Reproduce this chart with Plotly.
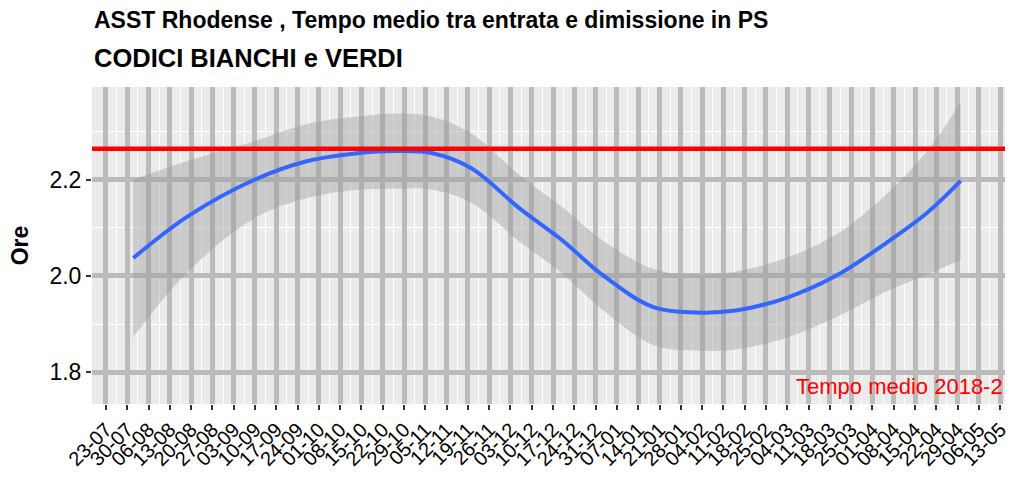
import pandas as pd
import plotly.graph_objects as go

# Smoothed weekly average time (hours) between ER entry and discharge
dates = ["2018-08-01", "2018-08-19", "2018-09-10", "2018-09-27", "2018-10-13",
         "2018-10-27", "2018-11-07", "2018-11-20", "2018-12-06", "2018-12-20",
         "2019-01-02", "2019-01-19", "2019-02-02", "2019-02-15", "2019-03-04",
         "2019-03-20", "2019-04-05", "2019-04-19", "2019-04-30"]
fit = [2.037, 2.124, 2.200, 2.238, 2.254, 2.259, 2.255, 2.224, 2.140, 2.074,
       2.003, 1.935, 1.924, 1.928, 1.955, 2.000, 2.066, 2.131, 2.197]
upper = [2.200, 2.239, 2.280, 2.315, 2.330, 2.337, 2.331, 2.296, 2.209, 2.143,
         2.075, 2.014, 2.003, 2.009, 2.038, 2.086, 2.166, 2.259, 2.361]
lower = [1.873, 2.009, 2.120, 2.161, 2.178, 2.181, 2.179, 2.152, 2.071, 2.005,
         1.931, 1.856, 1.845, 1.847, 1.872, 1.914, 1.966, 2.003, 2.033]

overall_mean = 2.264

# weekly tick labels (dd-mm)
tick_dates = pd.date_range("2018-07-23", "2019-05-13", freq="7D")
tick_labels = [d.strftime("%d-%m") for d in tick_dates]
minor_dates = tick_dates[:-1] + pd.Timedelta(days=3.5)

x = pd.to_datetime(dates)

fig = go.Figure()

# confidence band
fig.add_trace(go.Scatter(x=x, y=upper, mode="lines", line=dict(width=0, shape="spline"),
                         hoverinfo="skip", showlegend=False))
fig.add_trace(go.Scatter(x=x, y=lower, mode="lines", line=dict(width=0, shape="spline"),
                         fill="tonexty", fillcolor="rgba(153,153,153,0.4)",
                         hoverinfo="skip", showlegend=False))
# smoothed trend
fig.add_trace(go.Scatter(x=x, y=fit, mode="lines",
                         line=dict(color="#3366FF", width=4, shape="spline"),
                         showlegend=False))

# overall mean reference line
fig.add_shape(type="line", xref="paper", x0=0, x1=1, yref="y",
              y0=overall_mean, y1=overall_mean,
              line=dict(color="#FF0000", width=4.5))

fig.add_annotation(text="Tempo medio 2018-2", xref="paper", x=1, xanchor="right",
                   yref="y", y=1.771, yanchor="middle", showarrow=False,
                   font=dict(color="#FF0000", size=22, family="Liberation Sans"))

fig.add_annotation(text="<b>ASST Rhodense , Tempo medio tra entrata e dimissione in PS</b>",
                   xref="paper", x=0, xanchor="left", yref="paper", y=1.0,
                   yshift=67, yanchor="middle", showarrow=False,
                   font=dict(color="black", size=23, family="Liberation Sans"))
fig.add_annotation(text="<b>CODICI BIANCHI e VERDI</b>",
                   xref="paper", x=0, xanchor="left", yref="paper", y=1.0,
                   yshift=29, yanchor="middle", showarrow=False,
                   font=dict(color="black", size=25.5, family="Liberation Sans"))

fig.update_layout(
    width=1016, height=479,
    margin=dict(l=92, r=6, t=87, b=75),
    paper_bgcolor="white",
    plot_bgcolor="#EBEBEB",
    font=dict(family="Liberation Sans", color="black"),
    showlegend=False,
)

fig.update_xaxes(
    type="date",
    range=["2018-07-18 10:00", "2019-05-14 14:00"],
    tickmode="array", tickvals=tick_dates, ticktext=tick_labels,
    tickangle=-45, tickfont=dict(size=20, color="black"),
    ticks="outside", ticklen=5, tickwidth=2, tickcolor="#333333",
    showgrid=True, gridcolor="#BBBBBB", gridwidth=5,
    minor=dict(tickmode="array", tickvals=minor_dates, showgrid=True,
               gridcolor="white", gridwidth=1, ticks=""),
    zeroline=False, showline=False,
)
fig.update_yaxes(
    range=[1.734, 2.392],
    tickmode="array", tickvals=[1.8, 2.0, 2.2], ticktext=["1.8", "2.0", "2.2"],
    tickfont=dict(size=23, color="black"),
    ticks="outside", ticklen=5, tickwidth=2, tickcolor="#333333",
    showgrid=True, gridcolor="#BBBBBB", gridwidth=5,
    minor=dict(tickmode="array", tickvals=[1.9, 2.1, 2.3], showgrid=True,
               gridcolor="white", gridwidth=1, ticks=""),
    title=dict(text="<b>Ore</b>", font=dict(size=23, color="black"), standoff=14),
    zeroline=False, showline=False,
)

fig.write_html("out.html")
